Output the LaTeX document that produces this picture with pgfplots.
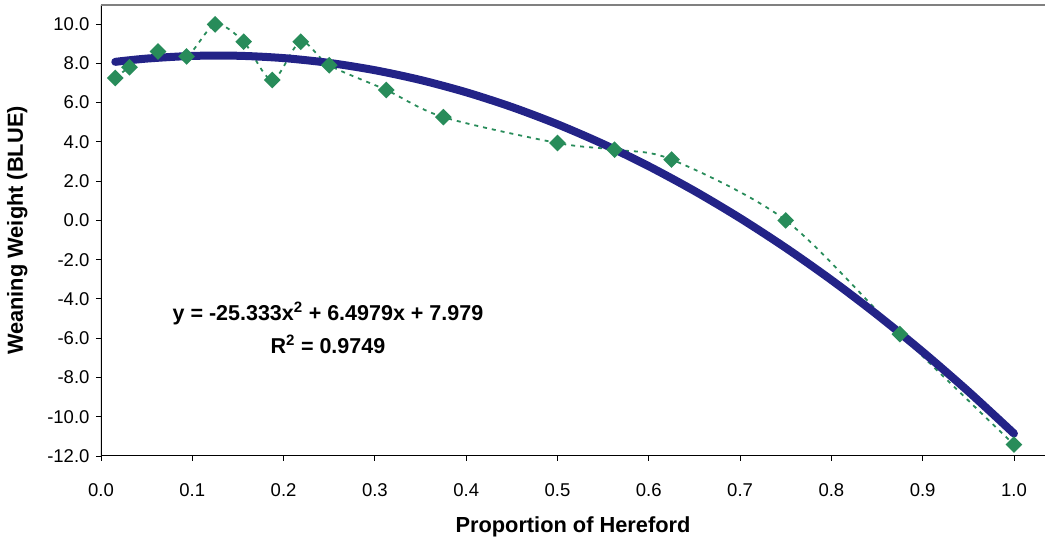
\documentclass[border=0pt]{standalone}
\usepackage{fontspec}
\setmainfont{Liberation Sans}
\usepackage{pgfplots}
\pgfplotsset{compat=1.18}
\definecolor{trendblue}{RGB}{35,35,135}
\definecolor{seagreen}{RGB}{40,140,90}

\begin{document}
\begin{tikzpicture}
\begin{axis}[
  scale only axis,
  width=944pt, height=451pt,
  xmin=0, xmax=1.034, ymin=-12, ymax=10.97,
  xtick={0,0.1,0.2,0.3,0.4,0.5,0.6,0.7,0.8,0.9,1.0},
  ytick={-12,-10,-8,-6,-4,-2,0,2,4,6,8,10},
  /pgf/number format/.cd, fixed, fixed zerofill, precision=1, assume math mode=true,
  /pgfplots/.cd,
  tick align=outside,
  xtick pos=left, ytick pos=left,
  major tick length=5pt,
  tick style={black, line width=0.9pt},
  axis line style={draw=none},
  ticklabel style={font=\fontsize{18.5}{20}\selectfont},
  xticklabel style={yshift=-19pt},
  yticklabel style={xshift=-3pt},
  xlabel={Proportion of Hereford},
  ylabel={Weaning Weight (BLUE)},
  label style={font=\bfseries\fontsize{21.8}{24}\selectfont},
  xlabel style={yshift=-13pt},
  ylabel style={yshift=13pt},
]
% frame: dark left and bottom axis lines, grey top border
\draw[black, line width=1.2pt] (rel axis cs:0,1) -- (rel axis cs:0,0) -- (rel axis cs:1,0);
\draw[gray, line width=1.6pt] (rel axis cs:0,1) -- (rel axis cs:1,1);
\coordinate (sw) at (rel axis cs:0,0);
\coordinate (ne) at (rel axis cs:1,1);

% observed breed-proportion means
\addplot[seagreen, line width=1.8pt, dash pattern=on 4pt off 5pt, smooth, tension=0.5,
  mark=square*, mark size=5pt, mark options={solid, rotate=45, fill=seagreen, draw=seagreen}]
  coordinates {
  (0.015625,7.25) (0.03125,7.8) (0.0625,8.6) (0.09375,8.35) (0.125,9.98)
  (0.15625,9.1) (0.1875,7.15) (0.21875,9.1) (0.25,7.9) (0.3125,6.64)
  (0.375,5.26) (0.5,3.94) (0.5625,3.6) (0.625,3.1) (0.75,0.0)
  (0.875,-5.79) (1.0,-11.42)
  };

% quadratic trend y = -25.333x^2 + 6.4979x + 7.979
\addplot[trendblue, line width=8pt, smooth, line cap=round] coordinates {
  (0.015625,8.0743) (0.05,8.2406) (0.1,8.3755) (0.15,8.3837) (0.2,8.2653)
  (0.25,8.0202) (0.3,7.6484) (0.35,7.1500) (0.4,6.5249) (0.45,5.7731)
  (0.5,4.8947) (0.55,3.8896) (0.6,2.7579) (0.65,1.4995) (0.7,0.1144)
  (0.75,-1.3974) (0.8,-3.0358) (0.85,-4.8009) (0.9,-6.6926) (0.95,-8.7110)
  (1.0,-10.8561)
};

\node[font=\bfseries\fontsize{21.5}{33}\selectfont, align=center] at (axis cs:0.2486,-5.48)
  {y = -25.333x\textsuperscript{2} + 6.4979x + 7.979\\R\textsuperscript{2} = 0.9749};
\end{axis}
\path ([xshift=-101pt,yshift=-89pt]sw) rectangle ([xshift=4pt,yshift=5pt]ne);
\end{tikzpicture}
\end{document}
